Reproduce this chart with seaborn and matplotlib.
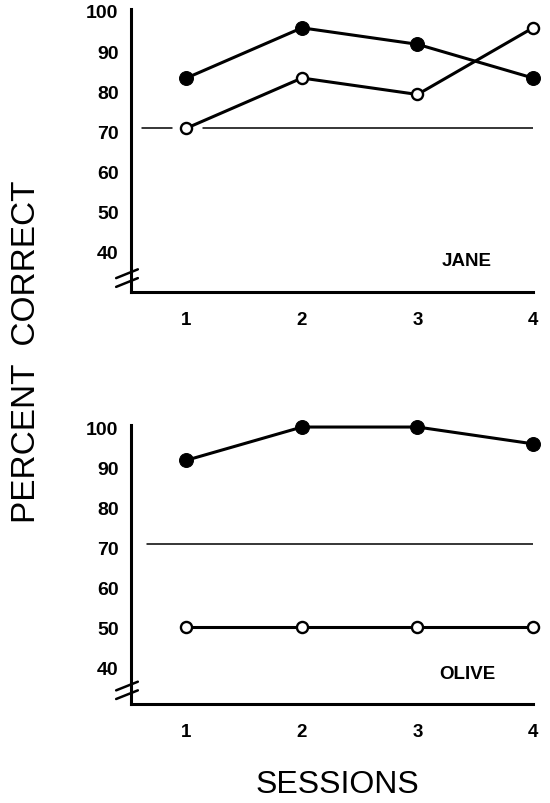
import matplotlib
matplotlib.use("Agg")
import matplotlib.pyplot as plt
import seaborn as sns
import pandas as pd

sns.set_theme(style="white")
plt.rcParams['font.family'] = ['Liberation Sans', 'DejaVu Sans']
plt.rcParams['text.color'] = 'black'
plt.rcParams['xtick.color'] = 'black'
plt.rcParams['ytick.color'] = 'black'

sessions = [1, 2, 3, 4]
jane_filled = [83.3, 95.8, 91.7, 83.3]
jane_open = [70.8, 83.3, 79.2, 95.8]
olive_filled = [91.7, 100.0, 100.0, 95.8]
olive_open = [50.0, 50.0, 50.0, 50.0]
criterion = 70.8
y_ticks = [40, 50, 60, 70, 80, 90, 100]
names = ["JANE", "OLIVE"]

fig = plt.figure(figsize=(5.5, 8.04), dpi=100)
ax_top = fig.add_axes([0.2382, 0.6356, 0.7309, 0.3520])
ax_bot = fig.add_axes([0.2382, 0.1231, 0.7309, 0.3470])

panels = [
    (ax_top, jane_filled, jane_open, names[0], (30, 100.5), [(0.615, 0.875), (1.143, 4.0)]),
    (ax_bot, olive_filled, olive_open, names[1], (30.75, 100.5), [(0.66, 4.0)]),
]

for ax, filled, opened, name, ylim, crit_segs in panels:
    for x0, x1 in crit_segs:
        ax.plot([x0, x1], [criterion, criterion], color="black", lw=1.1, zorder=1)
    df_f = pd.DataFrame({"session": sessions, "pct": filled})
    df_o = pd.DataFrame({"session": sessions, "pct": opened})
    sns.lineplot(data=df_f, x="session", y="pct", ax=ax, color="black", lw=2.2,
                 marker="o", markersize=10, markerfacecolor="black",
                 markeredgecolor="black", zorder=3, clip_on=False)
    sns.lineplot(data=df_o, x="session", y="pct", ax=ax, color="black", lw=2.2,
                 marker="o", markersize=8, markerfacecolor="white",
                 markeredgecolor="black", markeredgewidth=1.7, zorder=4, clip_on=False)
    ax.set_xlim(0.52, 4.0)
    ax.set_ylim(*ylim)
    ax.set_xticks(sessions)
    ax.set_xticklabels([str(s) for s in sessions], fontsize=13.5, fontweight="bold")
    ax.set_yticks(y_ticks)
    ax.set_yticklabels([str(t) for t in y_ticks], fontsize=14, fontweight="bold")
    ax.tick_params(axis="y", direction="in", length=5, width=2, pad=9)
    ax.tick_params(axis="x", direction="in", length=5, width=2, pad=14)
    for side in ["top", "right"]:
        ax.spines[side].set_visible(False)
    for side in ["left", "bottom"]:
        ax.spines[side].set_linewidth(2.2)
        ax.spines[side].set_color("black")
    ax.set_xlabel("")
    ax.set_ylabel("")
    ax.text(0.836, 0.11, name, transform=ax.transAxes, fontsize=13.5,
            fontweight="bold", ha="center", va="center")
    # axis break marks
    for dy in (0.0, 0.031):
        ax.plot([-0.037, 0.017], [0.018 + dy, 0.049 + dy], transform=ax.transAxes,
                color="black", lw=1.8, clip_on=False, zorder=5)

fig.text(0.049, 0.562, "PERCENT  CORRECT", rotation=90, fontsize=24,
         ha="center", va="center")
fig.text(0.613, 0.0235, "SESSIONS", fontsize=23, ha="center", va="center")

fig.savefig("out.png", dpi=100)
